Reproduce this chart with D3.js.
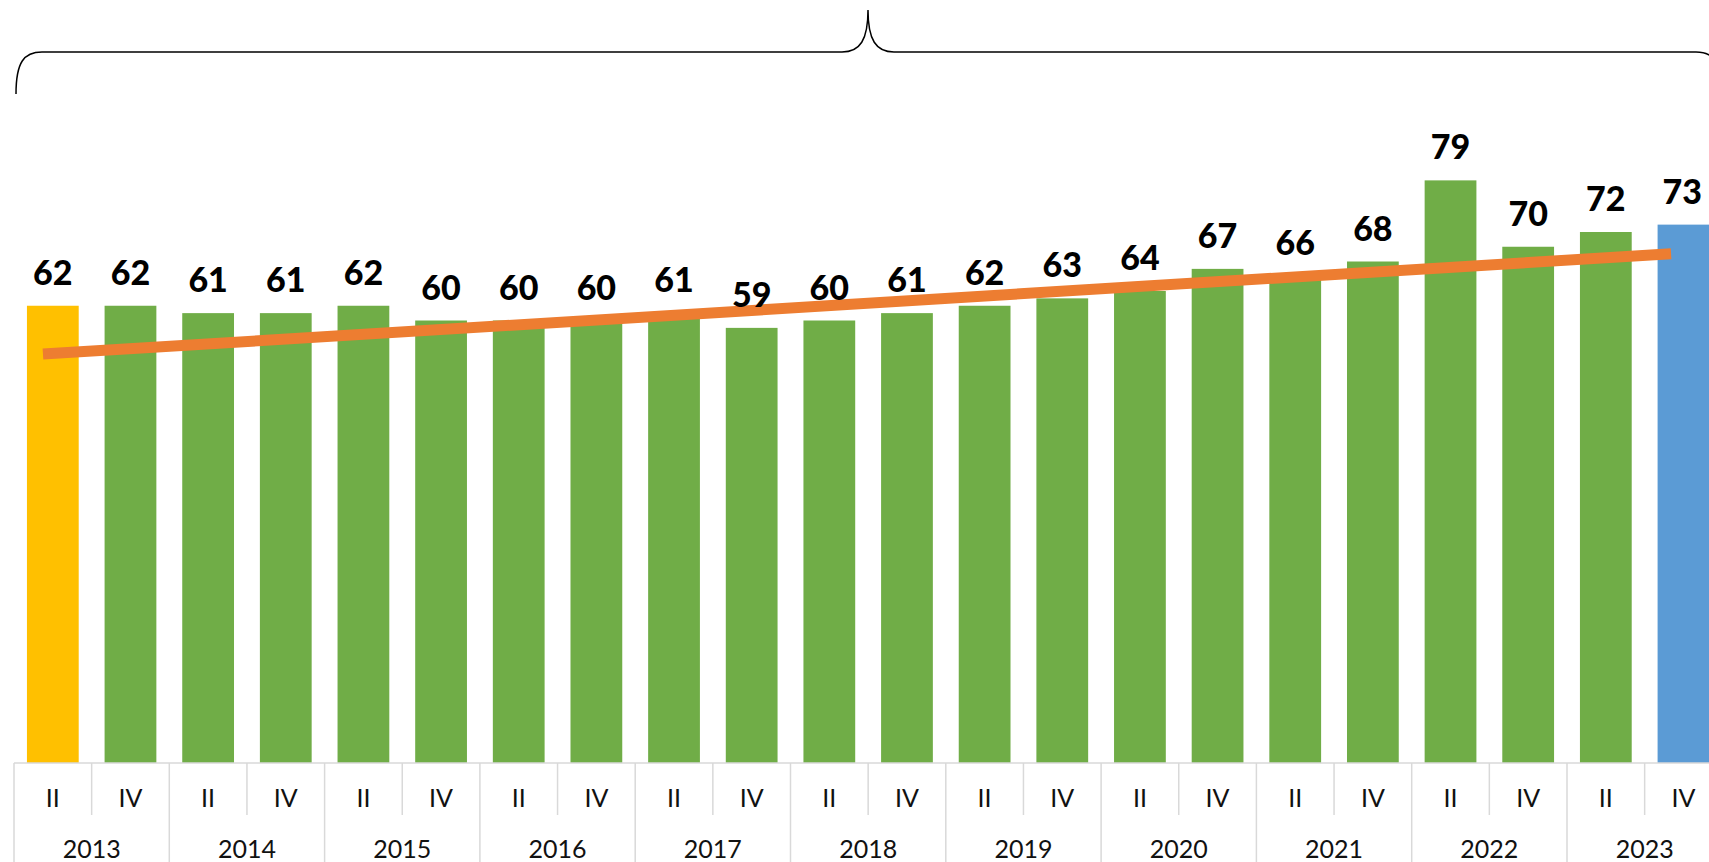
<!DOCTYPE html>
<html>
<head>
<meta charset="utf-8">
<script src="https://cdn.jsdelivr.net/npm/d3@7/dist/d3.min.js"></script>
<style>
  html, body { margin: 0; padding: 0; background: #fff; overflow: hidden; }
  svg { display: block; }
</style>
</head>
<body>
<svg id="chart" width="1709" height="862"></svg>
<script>
// ---- data ----
const years = ["2013","2014","2015","2016","2017","2018","2019","2020","2021","2022","2023"];
const quarters = ["II","IV"];
const values = [62,62,61,61,62,60,60,60,61,59,60,61,62,63,64,67,66,68,79,70,72,73];
// trend line endpoints (category index position, value)
const trendIdx = [-0.127, 20.84];
const trendVal = [55.45, 69.05];

const categories = [];
years.forEach(y => quarters.forEach(q => categories.push({year: y, q: q})));

// ---- layout ----
const W = 1709, H = 862;
const axisY = 763;
const left = 14;
const step = 77.65;
const n = values.length;

const svg = d3.select("#chart");

const x = d3.scaleBand()
  .domain(d3.range(n))
  .range([left, left + n * step])
  .paddingInner(1/3)
  .paddingOuter(1/6);

const y = d3.scaleLinear().domain([0, 80]).range([axisY, axisY - 80 * 7.375]);

const xi = d3.scaleLinear().domain([-0.5, n - 0.5]).range([left, left + n * step]);

const colorFor = i => i === 0 ? "#FFC000" : (i === n - 1 ? "#5B9BD5" : "#70AD47");

// ---- bars ----
svg.append("g").selectAll("rect")
  .data(values)
  .join("rect")
  .attr("x", (d, i) => x(i))
  .attr("y", d => y(d))
  .attr("width", x.bandwidth())
  .attr("height", d => y(0) - y(d))
  .attr("fill", (d, i) => colorFor(i));

// ---- trend line ----
const trendData = trendIdx.map((t, k) => ({i: t, v: trendVal[k]}));
svg.append("path")
  .datum(trendData)
  .attr("d", d3.line().x(d => xi(d.i)).y(d => y(d.v)))
  .attr("stroke", "#ED7D31")
  .attr("stroke-width", 11)
  .attr("fill", "none")
  .attr("stroke-linecap", "butt");

// ---- data labels ----
const labels = svg.append("g").selectAll("text")
  .data(values)
  .join("text")
  .attr("x", (d, i) => x(i) + x.bandwidth() / 2)
  .attr("y", d => y(d) - 21)
  .attr("text-anchor", "middle")
  .attr("font-family", "Lato, 'Open Sans', sans-serif")
  .attr("font-weight", 900)
  .attr("font-size", 34)
  .attr("fill", "#000")
  .text(d => d);
// keep labels inside the chart area
labels.each(function() {
  const bb = this.getBBox();
  const maxRight = W - 7;
  if (bb.x + bb.width > maxRight) {
    const cx = +this.getAttribute("x");
    this.setAttribute("x", cx - (bb.x + bb.width - maxRight));
  }
});

// ---- category axis (multi-level) ----
const axisG = svg.append("g");
const gridColor = "#d9d9d9";
axisG.append("line")
  .attr("x1", left).attr("x2", left + n * step)
  .attr("y1", axisY).attr("y2", axisY)
  .attr("stroke", gridColor).attr("stroke-width", 1.5);

const boundary = i => left + i * x.step();
// separators
d3.range(n + 1).forEach(i => {
  const isYear = i % quarters.length === 0;
  axisG.append("line")
    .attr("x1", boundary(i))
    .attr("x2", boundary(i))
    .attr("y1", axisY)
    .attr("y2", isYear ? H : 815)
    .attr("stroke", gridColor)
    .attr("stroke-width", 1.5);
});

// quarter labels
axisG.selectAll("text.q")
  .data(categories)
  .join("text")
  .attr("class", "q")
  .attr("x", (d, i) => x(i) + x.bandwidth() / 2)
  .attr("y", 807)
  .attr("text-anchor", "middle")
  .attr("font-family", "Lato, 'Open Sans', sans-serif")
  .attr("font-size", 25)
  .attr("fill", "#111")
  .text(d => d.q);

// year labels
axisG.selectAll("text.y")
  .data(years)
  .join("text")
  .attr("class", "y")
  .attr("x", (d, k) => boundary(k * quarters.length) + x.step() * quarters.length / 2)
  .attr("y", 858)
  .attr("text-anchor", "middle")
  .attr("font-family", "Lato, 'Open Sans', sans-serif")
  .attr("font-size", 25)
  .attr("fill", "#111")
  .text(d => d);

// ---- brace annotation on top ----
const bL = 16, bR = 1722, bMid = 868;
const bBase = 52, bEnd = 94, bPeak = 10, cw = 26;
const bracePath = d3.path();
bracePath.moveTo(bL, bEnd);
bracePath.bezierCurveTo(bL, bBase + 10, bL + 8, bBase, bL + cw, bBase);
bracePath.lineTo(bMid - cw, bBase);
bracePath.bezierCurveTo(bMid - 8, bBase, bMid, bBase - 12, bMid, bPeak);
bracePath.bezierCurveTo(bMid, bBase - 12, bMid + 8, bBase, bMid + cw, bBase);
bracePath.lineTo(bR - cw, bBase);
bracePath.bezierCurveTo(bR - 8, bBase, bR, bBase + 10, bR, bEnd);
svg.append("path")
  .attr("d", bracePath.toString())
  .attr("fill", "none")
  .attr("stroke", "#000")
  .attr("stroke-width", 1.5);
</script>
</body>
</html>
